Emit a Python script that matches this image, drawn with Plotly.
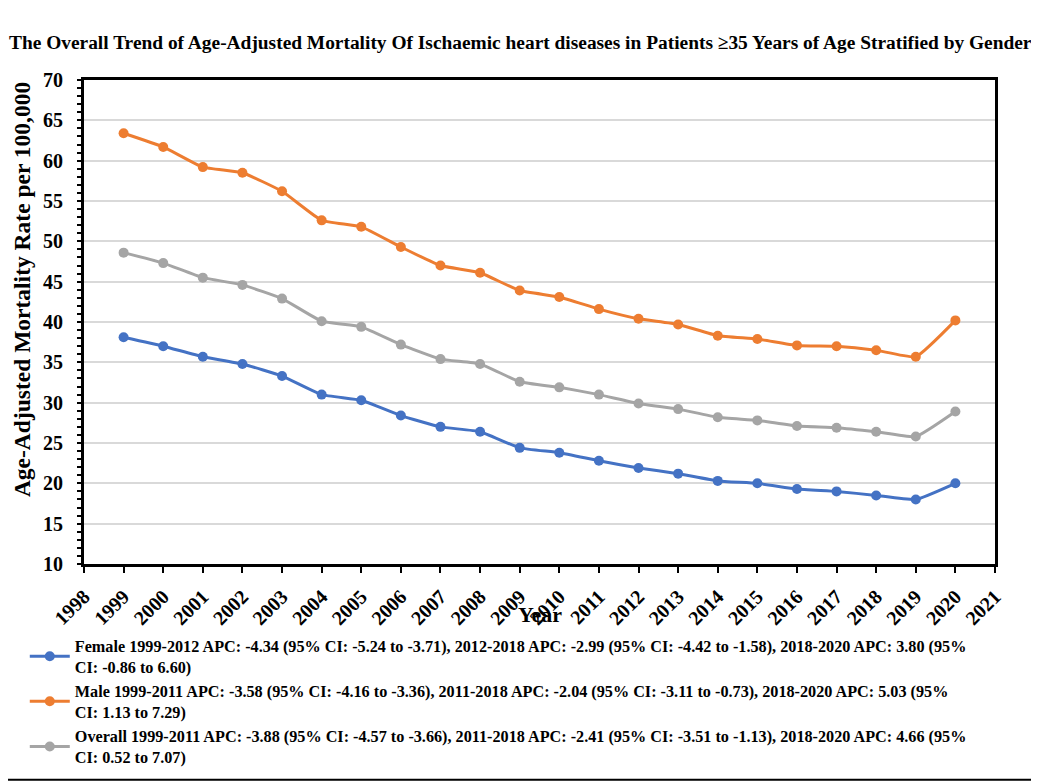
import plotly.graph_objects as go

years = list(range(1999, 2021))
male = [63.4, 61.7, 59.2, 58.5, 56.2, 52.6, 51.8, 49.3, 47.0, 46.1, 43.9,
        43.1, 41.6, 40.4, 39.7, 38.3, 37.9, 37.1, 37.0, 36.5, 35.7, 40.2]
overall = [48.6, 47.3, 45.5, 44.6, 42.9, 40.1, 39.4, 37.2, 35.4, 34.8, 32.6,
           31.9, 31.0, 29.9, 29.2, 28.2, 27.8, 27.1, 26.9, 26.4, 25.8, 28.9]
female = [38.1, 37.0, 35.7, 34.8, 33.3, 31.0, 30.3, 28.4, 27.0, 26.4, 24.4,
          23.8, 22.8, 21.9, 21.2, 20.3, 20.0, 19.3, 19.0, 18.5, 18.0, 20.0]

names = {
    "Female": "Female 1999-2012 APC: -4.34 (95% CI: -5.24 to -3.71), 2012-2018 APC: -2.99 (95% CI: -4.42 to -1.58), 2018-2020 APC: 3.80 (95%<br>CI: -0.86 to 6.60)",
    "Male": "Male 1999-2011 APC: -3.58 (95% CI: -4.16 to -3.36), 2011-2018 APC: -2.04 (95% CI: -3.11 to -0.73), 2018-2020 APC: 5.03 (95%<br>CI: 1.13 to 7.29)",
    "Overall": "Overall 1999-2011 APC: -3.88 (95% CI: -4.57 to -3.66), 2011-2018 APC: -2.41 (95% CI: -3.51 to -1.13), 2018-2020 APC: 4.66 (95%<br>CI: 0.52 to 7.07)",
}
colors = {"Female": "#4472C4", "Male": "#ED7D31", "Overall": "#A5A5A5"}
series = {"Female": female, "Male": male, "Overall": overall}

FONT = "Liberation Serif"

fig = go.Figure()
for key in ["Female", "Male", "Overall"]:
    fig.add_trace(go.Scatter(
        x=years, y=series[key], name=names[key], mode="lines+markers",
        line=dict(color=colors[key], width=3, shape="spline", smoothing=0.4),
        marker=dict(color=colors[key], size=10),
    ))

fig.update_layout(
    width=1039, height=781,
    margin=dict(l=76, r=52, t=72, b=225),
    paper_bgcolor="white", plot_bgcolor="white",
    font=dict(family=FONT, color="black"),
    title=dict(
        text="<b>The Overall Trend of Age-Adjusted Mortality Of Ischaemic heart diseases in Patients ≥35 Years of Age Stratified by Gender</b>",
        x=0.493, xanchor="center", y=0.9565, yanchor="middle",
        font=dict(family=FONT, size=19.4, color="black"),
    ),
    xaxis=dict(
        range=[1998, 2021], dtick=1, tick0=1998, tickangle=-45,
        showgrid=False, zeroline=False,
        showline=True, linecolor="black", linewidth=3, mirror=True,
        ticks="outside", ticklen=6, tickwidth=2, tickcolor="black",
        ticklabelstandoff=4,
        tickfont=dict(family=FONT, size=20, color="black", weight="bold"),
    ),
    yaxis=dict(
        range=[10, 70], dtick=5, tick0=10,
        showgrid=True, gridcolor="#D9D9D9", gridwidth=2, zeroline=False,
        showline=True, linecolor="black", linewidth=3, mirror=True,
        ticks="outside", ticklen=4, tickwidth=2, tickcolor="black",
        minor=dict(dtick=1, ticks="outside", ticklen=4, tickwidth=2, tickcolor="black"),
        ticklabelstandoff=10,
        tickfont=dict(family=FONT, size=20, color="black", weight="bold"),
    ),
    legend=dict(
        x=-0.065, y=-0.1335, xanchor="left", yanchor="top",
        font=dict(family=FONT, size=16.2, color="black", weight="bold"),
        tracegroupgap=4, itemwidth=40,
        bgcolor="rgba(0,0,0,0)",
    ),
    showlegend=True,
    annotations=[
        dict(text="<b>Year</b>", x=0.5, xref="paper", y=-0.105, yref="paper",
             showarrow=False, font=dict(family=FONT, size=22, color="black"),
             xanchor="center", yanchor="middle"),
        dict(text="<b>Age-Adjusted Mortality Rate per 100,000</b>", x=-0.068, xref="paper",
             y=0.566, yref="paper", textangle=-90, showarrow=False,
             font=dict(family=FONT, size=23.5, color="black"),
             xanchor="center", yanchor="middle"),
    ],
    shapes=[
        dict(type="line", xref="paper", yref="paper", x0=-0.1, x1=1.06,
             y0=-0.446, y1=-0.446, line=dict(color="black", width=2)),
    ],
)

fig.write_html("out.html")
